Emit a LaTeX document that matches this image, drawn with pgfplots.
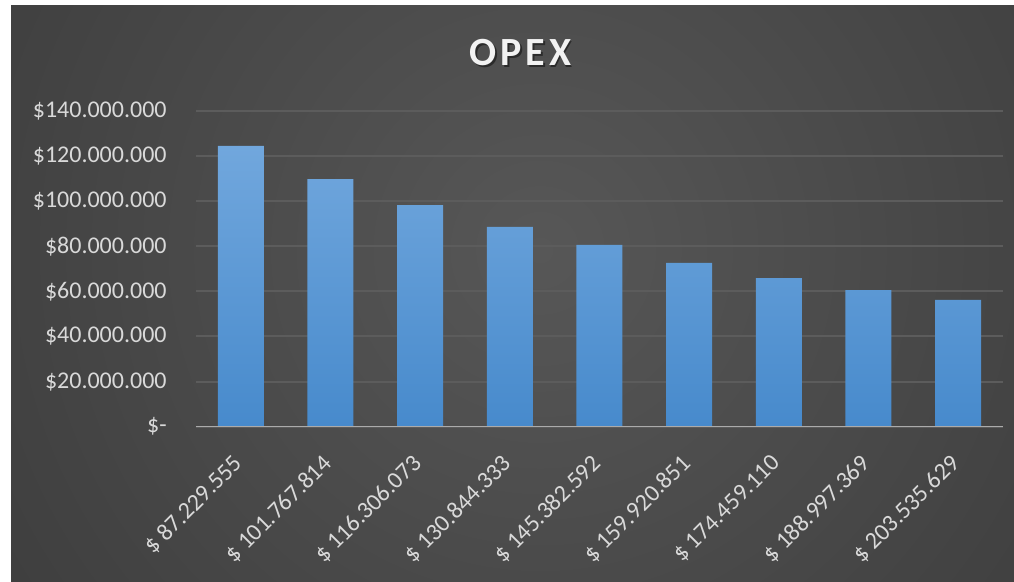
\documentclass[border=0pt]{standalone}
\usepackage{fontspec}
\setmainfont{Carlito}
\usepackage{pgfplots}
\pgfplotsset{compat=1.18}

\definecolor{bgA}{HTML}{575757}
\definecolor{bgB}{HTML}{444444}
\definecolor{bgC}{HTML}{3C3C3C}
\definecolor{bgD}{HTML}{2E2E2E}
\definecolor{bgE}{HTML}{2A2A2A}
\definecolor{gridc}{HTML}{5C5C5C}
\definecolor{axisc}{HTML}{ABABAB}
\definecolor{labc}{HTML}{D9D9D9}
\definecolor{titlec}{HTML}{F2F2F2}
\definecolor{barTop}{HTML}{71A7DD}
\definecolor{barBot}{HTML}{478ACC}

% radius 700px = 350pt maps to 50bp
\pgfdeclareradialshading{panelbg}{\pgfpoint{0bp}{0bp}}{%
  color(0bp)=(bgA); color(17.4bp)=(bgB); color(25bp)=(bgC);
  color(37.8bp)=(bgD); color(42.9bp)=(bgE); color(50bp)=(bgE)}

\begin{document}
\begin{tikzpicture}
  \useasboundingbox (0,0) rectangle (507pt,291pt);
  \fill[white] (0,0) rectangle (507pt,291pt);
  \begin{scope}
    \clip (5.5pt,0) rectangle (507pt,288pt);
    \shade[shading=panelbg] (270pt,166pt) circle (350pt);
  \end{scope}

  % title
  \node[anchor=base, text=black, opacity=0.45,
        font=\fontsize{20}{24}\selectfont\bfseries\addfontfeature{LetterSpace=10}]
    at (261pt,257pt) {OPEX};
  \node[anchor=base, text=titlec,
        font=\fontsize{20}{24}\selectfont\bfseries\addfontfeature{LetterSpace=10}]
    at (260.25pt,258pt) {OPEX};

  \begin{axis}[
      at={(98pt,77.65pt)}, anchor=south west,
      scale only axis, width=403.5pt, height=157.85pt,
      xmin=-0.5, xmax=8.5, ymin=0, ymax=140,
      axis line style={draw=none},
      tick style={draw=none},
      ymajorgrids, grid style={line width=1pt, gridc},
      ytick={0,20,40,60,80,100,120,140},
      yticklabels={\$-,\$20.000.000,\$40.000.000,\$60.000.000,\$80.000.000,
                   \$100.000.000,\$120.000.000,\$140.000.000},
      xtick={0,1,2,3,4,5,6,7,8},
      xticklabels={\$ 87.229.555,\$ 101.767.814,\$ 116.306.073,\$ 130.844.333,
                   \$ 145.382.592,\$ 159.920.851,\$ 174.459.110,\$ 188.997.369,
                   \$ 203.535.629},
      ticklabel style={font=\fontsize{12}{14}\selectfont, text=labc},
      yticklabel style={anchor=east, inner sep=0pt, xshift=-14.5pt},
      xticklabel style={xshift=-4.5pt, yshift=-13pt, rotate=45, anchor=north east, inner sep=0pt},
    ]
    \addplot[ybar, bar width=23pt, draw=none, top color=barTop, bottom color=barBot]
      coordinates {(0,124.5) (1,109.8) (2,98.3) (3,88.6) (4,80.6)
                   (5,72.6) (6,65.9) (7,60.6) (8,56.2)};
    \draw[line width=1pt, axisc] (axis cs:-0.5,0) -- (axis cs:8.5,0);
  \end{axis}
\end{tikzpicture}
\end{document}
